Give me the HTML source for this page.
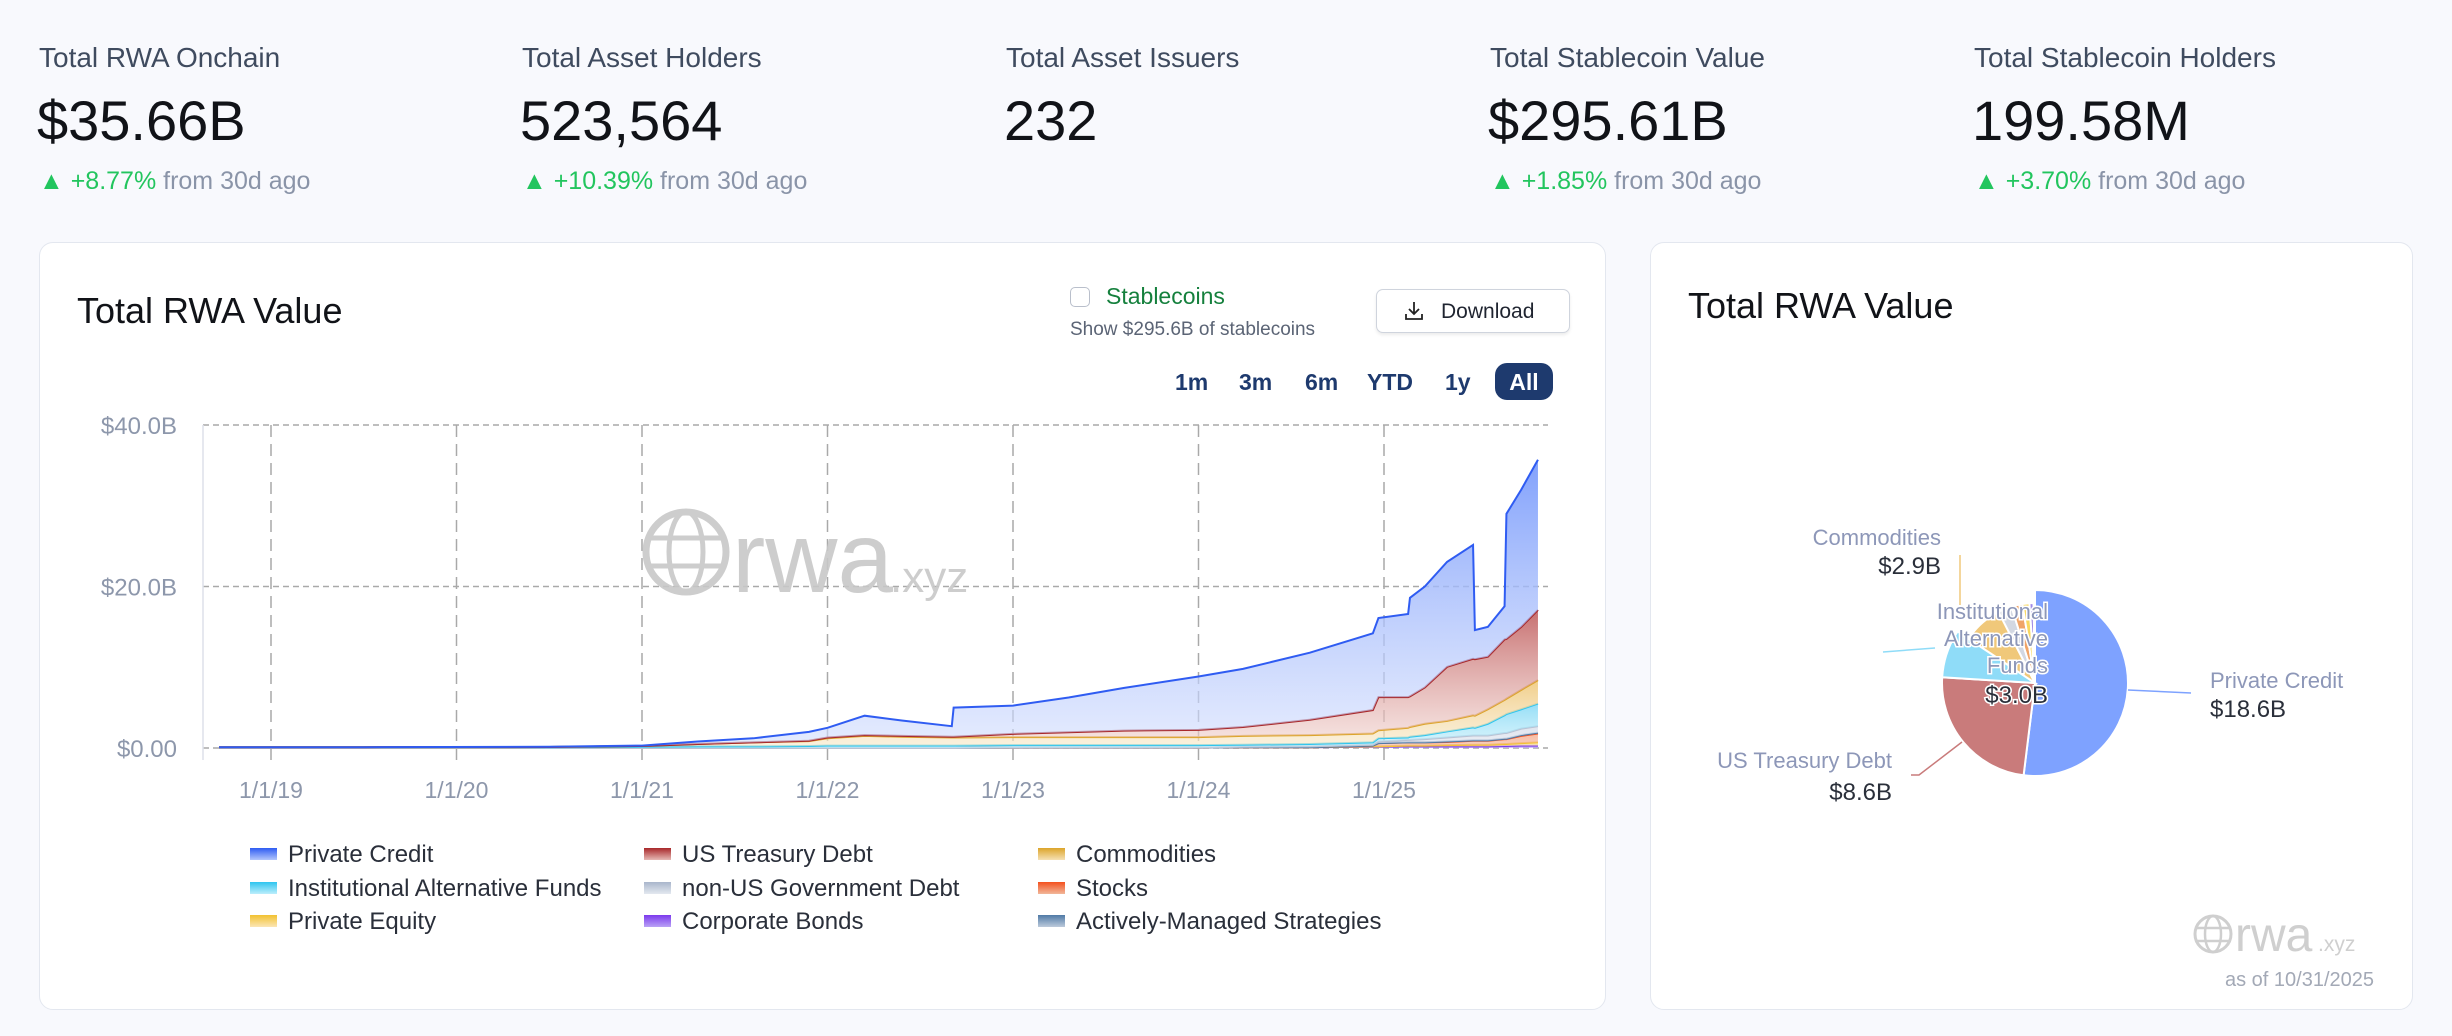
<!DOCTYPE html>
<html><head><meta charset="utf-8">
<style>
*{margin:0;padding:0;box-sizing:border-box}
body{width:2452px;height:1036px;background:#f8f9fd;font-family:"Liberation Sans",sans-serif;position:relative;overflow:hidden;color:#111827}
.abs{position:absolute;white-space:nowrap}
.lab{font-size:28px;color:#3f4b5f}
.big{font-size:56px;color:#111318}
.chg{font-size:25px;color:#8a94a8}
.chg b{color:#22c55e;font-weight:normal}
.card{position:absolute;background:#fff;border:1.5px solid #e3e7ef;border-radius:14px}
.rng{font-size:23px;font-weight:bold;color:#1e3a6e}
</style></head><body>
<div class="abs lab" style="left:39px;top:42px">Total RWA Onchain</div>
<div class="abs big" style="left:37px;top:88px">$35.66B</div>
<div class="abs chg" style="left:39px;top:167px"><b>▲ +8.77%</b> from 30d ago</div>
<div class="abs lab" style="left:522px;top:42px">Total Asset Holders</div>
<div class="abs big" style="left:520px;top:88px">523,564</div>
<div class="abs chg" style="left:522px;top:167px"><b>▲ +10.39%</b> from 30d ago</div>
<div class="abs lab" style="left:1006px;top:42px">Total Asset Issuers</div>
<div class="abs big" style="left:1004px;top:88px">232</div>
<div class="abs lab" style="left:1490px;top:42px">Total Stablecoin Value</div>
<div class="abs big" style="left:1488px;top:88px">$295.61B</div>
<div class="abs chg" style="left:1490px;top:167px"><b>▲ +1.85%</b> from 30d ago</div>
<div class="abs lab" style="left:1974px;top:42px">Total Stablecoin Holders</div>
<div class="abs big" style="left:1972px;top:88px">199.58M</div>
<div class="abs chg" style="left:1974px;top:167px"><b>▲ +3.70%</b> from 30d ago</div>

<div class="card" style="left:39px;top:242px;width:1567px;height:768px"></div>
<div class="card" style="left:1650px;top:242px;width:763px;height:768px"></div>

<div class="abs" style="left:77px;top:290px;font-size:36px;color:#111318">Total RWA Value</div>
<div class="abs" style="left:1070px;top:287px;width:20px;height:20px;border:1.5px solid #b9bfcb;border-radius:5px"></div>
<div class="abs" style="left:1106px;top:283px;font-size:23px;color:#15803d">Stablecoins</div>
<div class="abs" style="left:1070px;top:319px;font-size:19px;color:#5b6475">Show $295.6B of stablecoins</div>
<div class="abs" style="left:1376px;top:289px;width:194px;height:44px;border:1.5px solid #cfd4dd;border-radius:7px;background:#fff;box-shadow:0 2px 3px rgba(0,0,0,.08);font-size:21px;color:#1f2430;padding:10px 0 0 64px">Download</div>
<svg class="abs" style="left:1404px;top:300px" width="20" height="22"><path d="M10 2v12M5 9l5 5 5-5M2 14v5h16v-5" fill="none" stroke="#222" stroke-width="1.8"/></svg>
<div class="abs rng" style="left:1175px;top:369px">1m</div>
<div class="abs rng" style="left:1239px;top:369px">3m</div>
<div class="abs rng" style="left:1305px;top:369px">6m</div>
<div class="abs rng" style="left:1367px;top:369px">YTD</div>
<div class="abs rng" style="left:1445px;top:369px">1y</div>
<div class="abs rng" style="left:1495px;top:363px;width:58px;height:37px;background:#1e3a6e;color:#fff;border-radius:12px;text-align:center;padding-top:6px">All</div>

<svg id="area" class="abs" style="left:0;top:0" width="2452" height="1036"></svg>

<div class="abs" style="left:1688px;top:285px;font-size:36px;color:#111318">Total RWA Value</div>
<svg id="pie" class="abs" style="left:0;top:0" width="2452" height="1036"></svg>

<script>
const times=[2018.72,2019.5,2020.5,2021.0,2021.3,2021.6,2021.9,2022.0,2022.2,2022.4,2022.67,2022.68,2023.0,2023.3,2023.6,2024.0,2024.24,2024.6,2024.94,2024.97,2025.13,2025.14,2025.22,2025.34,2025.48,2025.49,2025.56,2025.65,2025.66,2025.74,2025.83];
const corpBonds=[0,0,0,0,0,0,0,0,0,0,0,0,0.05,0.05,0.05,0.05,0.1,0.1,0.15,0.15,0.2,0.2,0.2,0.2,0.2,0.2,0.2,0.25,0.25,0.3,0.3];
const privEquity=[0,0,0,0,0,0,0,0,0,0,0,0,0,0,0,0,0,0,0.05,0.05,0.1,0.1,0.1,0.15,0.2,0.2,0.2,0.25,0.25,0.3,0.4];
const stocks=[0,0,0,0,0,0,0,0,0,0,0,0,0,0,0,0,0,0,0.1,0.4,0.4,0.4,0.4,0.4,0.5,0.5,0.5,0.6,0.6,0.9,1.1];
const activeMgd=[0,0,0,0,0,0,0,0,0,0,0,0,0,0,0,0,0,0,0,0,0,0,0,0.05,0.05,0.05,0.05,0.05,0.05,0.1,0.1];
const nonUsGov=[0,0,0,0,0,0,0,0,0,0,0,0,0,0,0,0,0.05,0.1,0.1,0.2,0.3,0.3,0.4,0.5,0.6,0.6,0.6,0.7,0.7,0.8,0.8];
const instAlt=[0.1,0.1,0.1,0.15,0.2,0.2,0.25,0.3,0.3,0.3,0.3,0.3,0.3,0.3,0.3,0.3,0.25,0.3,0.3,0.4,0.3,0.4,0.5,0.75,1.0,0.95,1.45,2.2,2.35,2.4,2.8];
const commodities=[0,0,0.02,0.1,0.3,0.5,0.6,0.9,1.2,1.1,1.0,1.0,1.0,1.0,1.0,1.0,1.1,1.1,1.1,1.0,1.2,1.2,1.4,1.3,1.5,1.5,1.8,1.9,1.9,2.4,2.9];
const treasury=[0,0,0,0,0,0,0.05,0.1,0.1,0.1,0.1,0.1,0.4,0.6,0.8,0.9,1.1,1.9,2.9,4.1,3.8,3.8,4.5,6.7,7.0,7.0,6.5,7.5,7.4,7.8,8.7];
const privCredit=[0,0,0.03,0.05,0.3,0.5,1.1,1.2,2.4,1.9,1.3,3.6,3.5,4.3,5.3,6.6,7.2,8.3,9.5,9.8,10.3,12.2,12.5,13.0,14.1,3.6,3.7,4.1,15.5,17.0,18.6];
const yTicks=[0,20,40];
const yTickLabels=["$0.00","$20.0B","$40.0B"];
const xTicks=[2019,2020,2021,2022,2023,2024,2025];
const xTickLabels=["1/1/19","1/1/20","1/1/21","1/1/22","1/1/23","1/1/24","1/1/25"];

const NS="http://www.w3.org/2000/svg";
const X=t=>271+(t-2019)*185.5;
const Y=v=>748-v/40*323;
function mk(p,tag,at){const e=document.createElementNS(NS,tag);for(const k in at)e.setAttribute(k,at[k]);p.appendChild(e);return e;}
const svg=document.getElementById('area');
const defs=mk(svg,'defs',{});
const layers=[
 {n:'corporate-bonds',d:corpBonds,c:'#7c3aed',f:'#b9a2f5'},
 {n:'private-equity',d:privEquity,c:'#f2c230',f:'#fbe6a5'},
 {n:'stocks',d:stocks,c:'#f4511e',f:'#f6b79c'},
 {n:'actively-managed',d:activeMgd,c:'#4f7aa6',f:'#b8c9dc'},
 {n:'non-us-government-debt',d:nonUsGov,c:'#b9c2d3',f:'#dfe4ee'},
 {n:'institutional-alternative-funds',d:instAlt,c:'#2ec5ef',f:'#8fdcf6',f2:'#c4eefa'},
 {n:'commodities',d:commodities,c:'#dca42a',f:'#f0cc84',f2:'#f8e8c8'},
 {n:'us-treasury-debt',d:treasury,c:'#a8282a',f:'#c46868',f2:'#f2d6d2'},
 {n:'private-credit',d:privCredit,c:'#2f5cf2',f:'#7b9cfb',f2:'#d3defd'}
];
yTicks.forEach((v,i)=>{
 const l=mk(svg,'line',{x1:203,x2:1548,y1:Y(v),y2:Y(v),stroke:'#a9a9a9','stroke-width':1.5,'stroke-dasharray':'6 4'});
 
 const t=mk(svg,'text',{x:177,y:Y(v)+9,'text-anchor':'end','font-size':24,fill:'#8d97ab','font-family':'Liberation Sans'});
 t.textContent=yTickLabels[i];
 
});
xTicks.forEach((v,i)=>{
 const l=mk(svg,'line',{x1:X(v),x2:X(v),y1:425,y2:765,stroke:'#a9a9a9','stroke-width':1.5,'stroke-dasharray':'12 7'});
 
 const t=mk(svg,'text',{x:X(v),y:798,'text-anchor':'middle','font-size':23,fill:'#8d97ab','font-family':'Liberation Sans'});
 t.textContent=xTickLabels[i];
 
});
const ax=mk(svg,'line',{x1:203,x2:203,y1:425,y2:760,stroke:'#dde1ea','stroke-width':1.5});

const wg=mk(svg,'g',{opacity:0.9});

mk(wg,'circle',{cx:686,cy:552,r:40,fill:'none',stroke:'#c8c8c8','stroke-width':7});
mk(wg,'ellipse',{cx:686,cy:552,rx:17,ry:40,fill:'none',stroke:'#c8c8c8','stroke-width':5});
mk(wg,'line',{x1:646,x2:726,y1:538,y2:538,stroke:'#c8c8c8','stroke-width':5});
mk(wg,'line',{x1:646,x2:726,y1:566,y2:566,stroke:'#c8c8c8','stroke-width':5});
const wt=mk(wg,'text',{x:732,y:592,'font-size':100,fill:'#c8c8c8','font-family':'Liberation Sans'});wt.textContent='rwa';
const wt2=mk(wg,'text',{x:890,y:592,'font-size':44,fill:'#c8c8c8','font-family':'Liberation Sans'});wt2.textContent='.xyz';
let base=times.map(()=>0);
layers.forEach((L,li)=>{
 const g=mk(defs,'linearGradient',{id:'g'+li,x1:0,y1:0,x2:0,y2:1});
 mk(g,'stop',{offset:0,'stop-color':L.f,'stop-opacity':0.95});
 mk(g,'stop',{offset:1,'stop-color':L.f2||L.f,'stop-opacity':0.6});
 const top=times.map((t,i)=>base[i]+L.d[i]);
 let d='M'+times.map((t,i)=>X(t)+','+Y(top[i])).join('L');
 for(let i=times.length-1;i>=0;i--)d+='L'+X(times[i])+','+Y(base[i]);
 const a=mk(svg,'path',{d:d+'Z',fill:'url(#g'+li+')'});
 
 const ln=mk(svg,'path',{d:'M'+times.map((t,i)=>X(t)+','+Y(top[i])).join('L'),fill:'none',stroke:L.c,'stroke-width':2});
 
 base=top;
});
const legNames=['Private Credit','US Treasury Debt','Commodities','Institutional Alternative Funds','non-US Government Debt','Stocks','Private Equity','Corporate Bonds','Actively-Managed Strategies'];
const legColors=[['#2f5cf2','#b3c6fc'],['#a8282a','#e6b9b5'],['#dca42a','#f6e0b4'],['#2ec5ef','#bdeefb'],['#a9b6cc','#e3e8f0'],['#f4511e','#f1b79a'],['#f2c230','#fbe6b5'],['#7c3aed','#b9a2f5'],['#4f7aa6','#bccadb']];
const legX=[250,644,1038],legY=[854,888,921];
legNames.forEach((nm,i)=>{
 const cx=legX[i%3],cy=legY[Math.floor(i/3)];
 const g=mk(defs,'linearGradient',{id:'lg'+i,x1:0,y1:0,x2:0,y2:1});
 mk(g,'stop',{offset:0,'stop-color':legColors[i][0]});mk(g,'stop',{offset:1,'stop-color':legColors[i][1]});
 const r=mk(svg,'rect',{x:cx,y:cy-6,width:27,height:12,fill:'url(#lg'+i+')'});
 
 const t=mk(svg,'text',{x:cx+38,y:cy+8,'font-size':24,fill:'#2a2f3a','font-family':'Liberation Sans'});
 t.textContent=nm;
 
});

const pieLabels=['Private Credit','US Treasury Debt','Institutional Alternative Funds','Commodities','non-US Government Debt','Stocks','Private Equity','Corporate Bonds','Actively-Managed Strategies'];
const pieValues=[18.6,8.6,3.0,2.9,1.0,0.8,0.5,0.3,0.1];
const pieColors=['#7ea2ff','#c97b7b','#8fdcf8','#f0c87a','#d3d8e2','#f0a467','#f8d860','#a08ae6','#8aa6c6'];
const psvg=document.getElementById('pie');
const cx=2035,cy=683,R=93;
const tot=pieValues.reduce((a,b)=>a+b,0);
let ang=-Math.PI/2;
pieValues.forEach((v,i)=>{
 const a2=ang+v/tot*2*Math.PI;
 const r=(i>=3)?R*0.86:R;
 const x1=cx+r*Math.cos(ang),y1=cy+r*Math.sin(ang),x2=cx+r*Math.cos(a2),y2=cy+r*Math.sin(a2);
 const p=mk(psvg,'path',{d:`M${cx},${cy}L${x1},${y1}A${r},${r} 0 ${a2-ang>Math.PI?1:0} 1 ${x2},${y2}Z`,fill:pieColors[i],stroke:'#fff','stroke-width':2});
 
 ang=a2;
});
function leader(pts,c){const l=mk(psvg,'polyline',{points:pts,fill:'none',stroke:c,'stroke-width':1.5});}
leader('2128,690 2191,693','#7ea2ff');
leader('1962,742 1919,775 1911,775','#c97b7b');
leader('1935,648 1883,652','#8fdcf8');
leader('1960,605 1960,555','#f0c87a');
function pl(x,y,txt,c,anc,sz,nm){const t=mk(psvg,'text',{x:x,y:y,'text-anchor':anc,'font-size':sz||22,fill:c,'font-family':'Liberation Sans',stroke:'#fff','stroke-width':0,'paint-order':'stroke'});t.textContent=txt;return t;}
pl(2210,688,'Private Credit','#8d97b8','start',22,'pie-label-private-credit');
pl(2210,717,'$18.6B','#2a2f3a','start',24,'pie-value-private-credit');
pl(1892,768,'US Treasury Debt','#8d97b8','end',22,'pie-label-us-treasury');
pl(1892,800,'$8.6B','#2a2f3a','end',24,'pie-value-us-treasury');
pl(1941,545,'Commodities','#8d97b8','end',22,'pie-label-commodities');
pl(1941,574,'$2.9B','#2a2f3a','end',24,'pie-value-commodities');
['Institutional','Alternative','Funds'].forEach((w,i)=>{const t=pl(2048,619+i*27,w,'#8d97b8','end',22,'pie-label-institutional-alt');t.setAttribute('stroke-width',3);});
const tv=pl(2048,703,'$3.0B','#2a2f3a','end',24,'pie-value-institutional-alt');tv.setAttribute('stroke-width',3);
const pg=mk(psvg,'g',{});
mk(pg,'circle',{cx:2213,cy:934,r:18,fill:'none',stroke:'#cfcfcf','stroke-width':3});
mk(pg,'ellipse',{cx:2213,cy:934,rx:8,ry:18,fill:'none',stroke:'#cfcfcf','stroke-width':2.5});
mk(pg,'line',{x1:2195,x2:2231,y1:928,y2:928,stroke:'#cfcfcf','stroke-width':2.5});
mk(pg,'line',{x1:2195,x2:2231,y1:941,y2:941,stroke:'#cfcfcf','stroke-width':2.5});
const pw=mk(pg,'text',{x:2235,y:951,'font-size':48,fill:'#cfcfcf','font-family':'Liberation Sans'});pw.textContent='rwa';
const pw2=mk(pg,'text',{x:2318,y:951,'font-size':21,fill:'#cfcfcf','font-family':'Liberation Sans'});pw2.textContent='.xyz';
const asof=mk(psvg,'text',{x:2374,y:986,'text-anchor':'end','font-size':20,fill:'#a3a9b6','font-family':'Liberation Sans'});asof.textContent='as of 10/31/2025';

</script>
</body></html>
